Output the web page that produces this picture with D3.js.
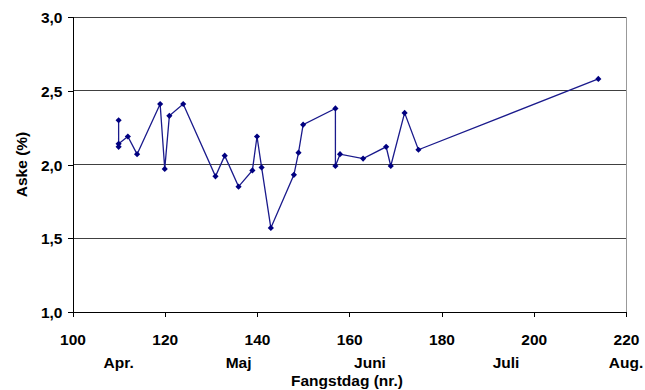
<!DOCTYPE html>
<html><head><meta charset="utf-8">
<script src="https://cdn.jsdelivr.net/npm/d3@7"></script>
<style>body{margin:0;background:#fff}svg{display:block}text{font-family:"Liberation Sans",Arial,sans-serif;font-weight:bold;fill:#000}</style>
</head><body>
<script>
const days = [110,110,110,112,114,119,120,121,124,131,133,136,139,140,141,143,148,149,150,157,157,158,163,168,169,172,175,214];
const ash  = [2.30,2.12,2.14,2.19,2.07,2.41,1.97,2.33,2.41,1.92,2.06,1.85,1.96,2.19,1.98,1.57,1.93,2.08,2.27,2.38,1.99,2.07,2.04,2.12,1.99,2.35,2.10,2.58];
const xTicks = [100,120,140,160,180,200,220];
const yTicks = [1.0,1.5,2.0,2.5,3.0];
const months = [{label:"Apr.",day:110},{label:"Maj",day:136},{label:"Juni",day:164.5},{label:"Juli",day:194},{label:"Aug.",day:220}];

const W=645,H=390,FS=15.5;
const svg=d3.select("body").append("svg").attr("width",W).attr("height",H);
const x=d3.scaleLinear().domain([100,220]).range([72.5,626]);
const y=d3.scaleLinear().domain([1,3]).range([312,17]);

// gridlines
svg.append("g").selectAll("line").data(yTicks.filter(t=>t>1)).join("line")
  .attr("x1",x(100)).attr("x2",x(220)).attr("y1",d=>y(d)).attr("y2",d=>y(d))
  .attr("stroke","#404040").attr("stroke-width",1).attr("shape-rendering","crispEdges");
// right border
svg.append("line").attr("x1",x(220)).attr("x2",x(220)).attr("y1",y(3)).attr("y2",y(1))
  .attr("stroke","#999").attr("shape-rendering","crispEdges");

const fmt=d=>d3.format(".1f")(d).replace(".",",");
const ya=svg.append("g").attr("transform",`translate(${x(100)},0)`)
  .call(d3.axisLeft(y).tickValues(yTicks).tickFormat(fmt).tickSize(5).tickPadding(5));
ya.select(".domain").attr("stroke","#000");
ya.selectAll("text").attr("font-size",FS).attr("dy","0.36em").style("font-family","Liberation Sans, Arial, sans-serif").style("font-weight","bold");
const xa=svg.append("g").attr("transform",`translate(0,${y(1)})`)
  .call(d3.axisBottom(x).tickValues(xTicks).tickFormat(d3.format("d")).tickSize(5).tickPadding(17));
xa.select(".domain").attr("stroke","#000");
xa.selectAll("text").attr("font-size",FS).attr("dy","0.71em").style("font-family","Liberation Sans, Arial, sans-serif").style("font-weight","bold");
svg.selectAll(".domain, .tick line").attr("shape-rendering","crispEdges");

svg.append("g").selectAll("text").data(months).join("text")
  .attr("x",d=>x(d.day)).attr("y",368).attr("text-anchor","middle").attr("font-size",FS).text(d=>d.label);
svg.append("text").attr("x",347).attr("y",386).attr("text-anchor","middle").attr("font-size",FS).text("Fangstdag (nr.)");
svg.append("text").attr("transform",`translate(26.5,${y(2)}) rotate(-90)`).attr("text-anchor","middle").attr("font-size",FS).text("Aske (%)");

const pts=days.map((d,i)=>[d,ash[i]]);
svg.append("path").datum(pts).attr("fill","none").attr("stroke","#1a1a8c").attr("stroke-width",1.3)
  .attr("d",d3.line().x(d=>x(d[0])).y(d=>y(d[1])));
svg.append("g").selectAll("path").data(pts).join("path")
  .attr("transform",d=>`translate(${x(d[0])},${y(d[1])}) rotate(45)`)
  .attr("d",d3.symbol(d3.symbolSquare,19)).attr("fill","#000080");
</script>
</body></html>
